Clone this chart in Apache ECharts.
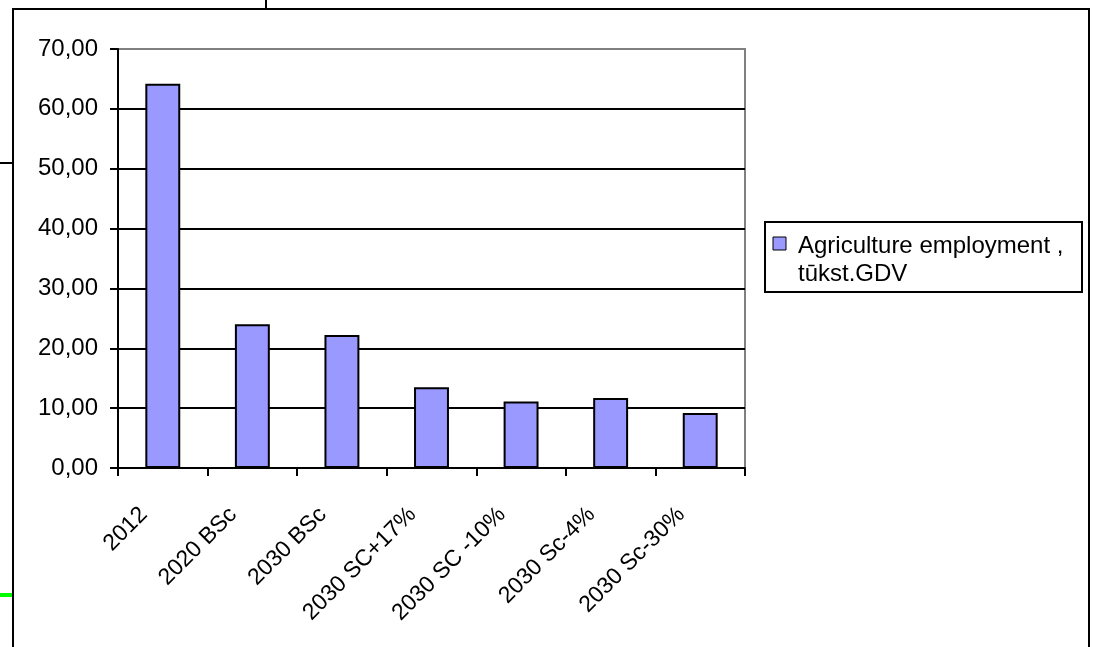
<!DOCTYPE html>
<html>
<head>
<meta charset="utf-8">
<script src="https://cdn.jsdelivr.net/npm/echarts@6/dist/echarts.min.js"></script>
<style>
html,body{margin:0;padding:0;background:#fff;}
#chart{width:1093px;height:647px;}
</style>
</head>
<body>
<div id="chart"></div>
<script>
const categories = ['2012', '2020 BSc', '2030 BSc', '2030 SC+17%', '2030 SC -10%', '2030 Sc-4%', '2030 Sc-30%'];
const employment = [64.2, 24.0, 22.2, 13.5, 11.1, 11.7, 9.2];
const yTicks = [0, 10, 20, 30, 40, 50, 60, 70];
const seriesName = 'Agriculture employment ,';
const seriesName2 = 'tūkst.GDV';

const FONT = "'Liberation Sans', Arial, sans-serif";
const chart = echarts.init(document.getElementById('chart'), null, {renderer: 'canvas'});

const option = {
  backgroundColor: '#ffffff',
  animation: false,
  textStyle: {fontFamily: FONT},
  grid: {
    left: 118, top: 49, right: 348, bottom: 179,
    show: true, borderColor: '#808080', borderWidth: 2, backgroundColor: '#ffffff'
  },
  xAxis: {
    type: 'category',
    data: categories,
    boundaryGap: true,
    axisLine: {show: true, lineStyle: {color: '#000', width: 2}},
    axisTick: {show: true, length: 8, lineStyle: {color: '#000', width: 2}},
    axisLabel: {
      rotate: 45, margin: 24, color: '#000', fontSize: 23, fontFamily: FONT, interval: 0,
      padding: [0, 27, 0, 0]
    }
  },
  yAxis: {
    type: 'value',
    min: yTicks[0], max: yTicks[yTicks.length - 1], interval: yTicks[1] - yTicks[0],
    axisLine: {show: true, lineStyle: {color: '#000', width: 2}},
    axisTick: {show: true, length: 8, lineStyle: {color: '#000', width: 2}},
    axisLabel: {
      margin: 20, color: '#000', fontSize: 24, fontFamily: FONT,
      formatter: v => v.toFixed(2).replace('.', ',')
    },
    splitLine: {show: true, showMaxLine: false, lineStyle: {color: '#000', width: 2}}
  },
  legend: {show: false},
  series: [{
    name: seriesName + ' ' + seriesName2,
    type: 'bar',
    data: employment,
    barWidth: '39%',
    itemStyle: {color: '#9999ff', borderColor: '#000', borderWidth: 2}
  }],
  graphic: [
    // outer chart frame
    {type: 'polyline', silent: true, shape: {points: [[13, 660], [13, 9], [1089, 9], [1089, 660]]},
     style: {stroke: '#000', lineWidth: 2, fill: null}},
    // stray marks around the frame
    {type: 'line', silent: true, shape: {x1: 266, y1: 0, x2: 266, y2: 9}, style: {stroke: '#000', lineWidth: 2}},
    {type: 'line', silent: true, shape: {x1: 0, y1: 163, x2: 13, y2: 163}, style: {stroke: '#000', lineWidth: 2}},
    {type: 'line', silent: true, shape: {x1: 0, y1: 595, x2: 12, y2: 595}, style: {stroke: '#00ff00', lineWidth: 4}},
    // legend
    {type: 'rect', silent: true, shape: {x: 765, y: 222, width: 317, height: 70},
     style: {stroke: '#000', lineWidth: 2, fill: '#fff'}},
    {type: 'rect', silent: true, shape: {x: 773, y: 237, width: 13, height: 13},
     style: {stroke: '#000', lineWidth: 1, fill: '#9999ff'}},
    {type: 'text', silent: true, x: 798, y: 232,
     style: {text: seriesName + '\n' + seriesName2, fontSize: 24, fontFamily: FONT, lineHeight: 28,
             fill: '#000', verticalAlign: 'top', align: 'left'}}
  ]
};
chart.setOption(option);
</script>
</body>
</html>
